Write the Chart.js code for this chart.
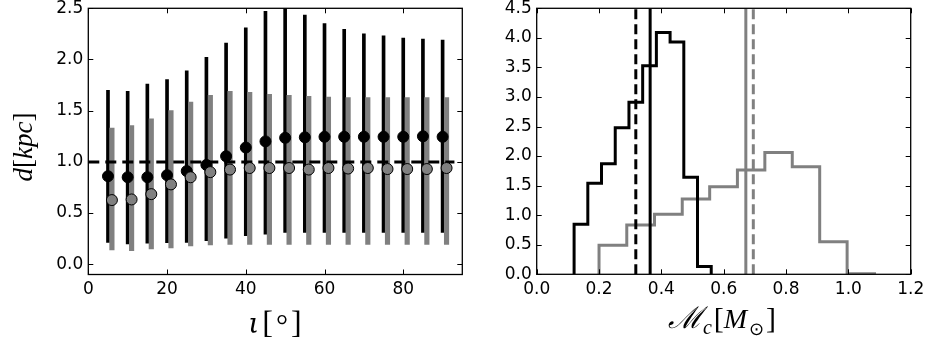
<!DOCTYPE html>
<html>
<head>
<meta charset="utf-8">
<script src="https://cdn.jsdelivr.net/npm/chart.js@4.4.0/dist/chart.umd.min.js"></script>
<style>
  body { margin: 0; background: #fff; width: 926px; height: 347px; overflow: hidden; position: relative; }
  canvas { position: absolute; top: 0; }
  #left { left: 0; }
  #right { left: 470px; }
</style>
</head>
<body>
<canvas id="left" width="470" height="347"></canvas>
<canvas id="right" width="456" height="347"></canvas>
<script>
// left panel: distance vs inclination
const incl     = [5, 10, 15, 20, 25, 30, 35, 40, 45, 50, 55, 60, 65, 70, 75, 80, 85, 90];
const dBlack   = [0.86, 0.85, 0.85, 0.87, 0.91, 0.97, 1.055, 1.14, 1.20, 1.235, 1.24, 1.245, 1.245, 1.245, 1.245, 1.245, 1.25, 1.245];
const dBlackLo = [0.214, 0.198, 0.205, 0.21, 0.214, 0.23, 0.256, 0.28, 0.295, 0.31, 0.31, 0.31, 0.31, 0.31, 0.31, 0.31, 0.31, 0.31];
const dBlackHi = [1.70, 1.69, 1.76, 1.805, 1.89, 2.02, 2.16, 2.31, 2.47, 2.56, 2.435, 2.35, 2.295, 2.25, 2.23, 2.21, 2.20, 2.19];

const inclGray = [6, 11, 16, 21, 26, 31, 36, 41, 46, 51, 56, 61, 66, 71, 76, 81, 86, 91];
const dGray    = [0.627, 0.633, 0.685, 0.78, 0.85, 0.90, 0.925, 0.94, 0.94, 0.94, 0.925, 0.94, 0.935, 0.94, 0.93, 0.93, 0.93, 0.94];
const dGrayLo  = [0.14, 0.133, 0.15, 0.16, 0.18, 0.19, 0.195, 0.195, 0.195, 0.195, 0.195, 0.195, 0.195, 0.195, 0.195, 0.195, 0.195, 0.195];
const dGrayHi  = [1.33, 1.355, 1.42, 1.50, 1.585, 1.65, 1.69, 1.68, 1.66, 1.65, 1.64, 1.633, 1.627, 1.627, 1.627, 1.627, 1.627, 1.627];

const dTrue = 1.0;
const dTrueSpan = [0, 93];

// right panel: chirp mass histograms
const mcBlackEdges   = [0.120, 0.164, 0.208, 0.252, 0.296, 0.340, 0.384, 0.428, 0.472, 0.516, 0.560];
const mcBlackHeights = [0.846, 1.54, 1.87, 2.48, 2.91, 3.53, 4.09, 3.93, 1.64, 0.13];
const mcGrayEdges    = [0.200, 0.289, 0.378, 0.467, 0.555, 0.644, 0.732, 0.820, 0.908, 0.996, 1.084];
const mcGrayHeights  = [0.49, 0.835, 1.015, 1.275, 1.48, 1.765, 2.06, 1.82, 0.55, 0.01];

const mcBlackTrue = 0.318, mcBlackMed = 0.364;
const mcGrayMed = 0.671, mcGrayTrue = 0.695;

// tick labels
const leftXTicks  = [0, 20, 40, 60, 80];
const leftYTicks  = [0, 0.5, 1.0, 1.5, 2.0, 2.5];
const rightXTicks = [0, 0.2, 0.4, 0.6, 0.8, 1.0, 1.2];
const rightYTicks = [0, 0.5, 1.0, 1.5, 2.0, 2.5, 3.0, 3.5, 4.0, 4.5];

const GRAY = '#808080';
const tickFont = { family: 'DejaVu Sans', size: 17 };

function axis(ticks, min, max, fmt, fit) {
  return {
    type: 'linear', min: min, max: max, offset: false,
    grid: { display: false, drawTicks: false, offset: false },
    border: { display: false },
    ticks: { font: tickFont, color: '#000', padding: 5, callback: fmt, autoSkip: false, maxRotation: 0 },
    afterBuildTicks: s => { s.ticks = ticks.map(v => ({ value: v })); },
    afterFit: fit
  };
}

function drawRich(ctx, parts, cx, cy, angle) {
  ctx.save();
  ctx.translate(cx, cy);
  ctx.rotate(angle);
  ctx.fillStyle = '#000';
  ctx.textBaseline = 'alphabetic';
  let total = 0;
  parts.forEach(p => { ctx.font = p.f; total += ctx.measureText(p.t).width + (p.sp || 0); });
  let x = -total / 2;
  parts.forEach(p => {
    ctx.font = p.f;
    ctx.fillText(p.t, x, p.dy || 0);
    x += ctx.measureText(p.t).width + (p.sp || 0);
  });
  ctx.restore();
}

// frame, inward ticks on all four sides, and axis titles
function frame(titles) {
  return {
    id: 'frame',
    afterDraw(chart) {
      const ctx = chart.ctx, a = chart.chartArea;
      const xs = chart.scales.x, ys = chart.scales.y;
      ctx.save();
      ctx.strokeStyle = '#000';
      ctx.lineWidth = 1;
      ctx.beginPath();
      xs.ticks.forEach(t => {
        const px = Math.round(xs.getPixelForValue(t.value)) + 0.5;
        ctx.moveTo(px, a.bottom); ctx.lineTo(px, a.bottom - 5);
        ctx.moveTo(px, a.top); ctx.lineTo(px, a.top + 5);
      });
      ys.ticks.forEach(t => {
        const py = Math.round(ys.getPixelForValue(t.value)) + 0.5;
        ctx.moveTo(a.left, py); ctx.lineTo(a.left + 5, py);
        ctx.moveTo(a.right, py); ctx.lineTo(a.right - 5, py);
      });
      ctx.stroke();
      ctx.lineWidth = 1.3;
      ctx.strokeRect(a.left, a.top, a.right - a.left, a.bottom - a.top);
      ctx.restore();
      titles.forEach(t => drawRich(ctx, t.parts, t.x, t.y, t.angle || 0));
    }
  };
}

const serifI = s => 'italic ' + s + 'px "Liberation Serif"';
const serif = s => s + 'px "Liberation Serif"';

// left chart
new Chart(document.getElementById('left').getContext('2d'), {
  type: 'scatter',
  data: {
    datasets: [
      {
        type: 'scatter', order: 1, clip: 0,
        data: inclGray.map((x, i) => ({ x: x, y: dGray[i] })),
        pointRadius: 5.5, pointBackgroundColor: GRAY, pointBorderColor: '#000', pointBorderWidth: 1
      },
      {
        type: 'scatter', order: 2, clip: 0,
        data: incl.map((x, i) => ({ x: x, y: dBlack[i] })),
        pointRadius: 5.5, pointBackgroundColor: '#000', pointBorderColor: '#000', pointBorderWidth: 1
      },
      {
        type: 'line', order: 3, clip: 0,
        data: dTrueSpan.map(x => ({ x: x, y: dTrue })),
        borderColor: '#000', borderWidth: 3, borderDash: [11, 6], pointRadius: 0, fill: false
      },
      {
        type: 'bar', order: 4, clip: 0, grouped: false,
        data: inclGray.map((x, i) => ({ x: x, y: [dGrayLo[i], dGrayHi[i]] })),
        backgroundColor: GRAY, borderWidth: 0, barThickness: 4.5
      },
      {
        type: 'bar', order: 5, clip: 0, grouped: false,
        data: incl.map((x, i) => ({ x: x, y: [dBlackLo[i], dBlackHi[i]] })),
        backgroundColor: '#000', borderWidth: 0, barThickness: 3
      }
    ]
  },
  options: {
    responsive: false,
    animation: false,
    layout: { padding: { left: 0, top: 8.3, right: 7.7, bottom: 0 } },
    plugins: { legend: { display: false }, tooltip: { enabled: false } },
    scales: {
      x: axis(leftXTicks, 0, 95, v => String(v), s => { s.height = 72.5; s.paddingLeft = 0; s.paddingRight = 0; }),
      y: axis(leftYTicks, -0.1, 2.5, v => v.toFixed(1), s => { s.width = 88.3; s.paddingTop = 0; s.paddingBottom = 0; })
    }
  },
  plugins: [frame([
    { x: 32, y: 147, angle: -Math.PI / 2, parts: [
      { t: 'd', f: serifI(27) }, { t: '[', f: serif(27) }, { t: 'kpc', f: serifI(27) }, { t: ']', f: serif(27) }
    ] },
    { x: 275, y: 333, parts: [
      { t: 'ι', f: 'italic 28px "DejaVu Serif"', sp: 3 }, { t: '[', f: serif(32), sp: 3 }, { t: '°', f: serif(30), dy: 2, sp: 3 }, { t: ']', f: serif(32) }
    ] }
  ])]
});

// right chart
function stepPoints(edges, heights) {
  const pts = [{ x: edges[0], y: 0 }];
  heights.forEach((h, i) => pts.push({ x: edges[i + 1], y: h }));
  pts.push({ x: edges[edges.length - 1], y: 0 });
  return pts;
}
function vline(x, color, dash, order) {
  return {
    type: 'line', order: order, clip: 0,
    data: [{ x: x, y: 0 }, { x: x, y: 4.5 }],
    borderColor: color, borderWidth: 3, borderDash: dash, pointRadius: 0, fill: false
  };
}

new Chart(document.getElementById('right').getContext('2d'), {
  type: 'scatter',
  data: {
    datasets: [
      vline(mcBlackTrue, '#000', [10, 5], 1),
      vline(mcBlackMed, '#000', [], 2),
      vline(mcGrayMed, GRAY, [], 3),
      vline(mcGrayTrue, GRAY, [10, 5], 4),
      {
        type: 'line', order: 5, clip: 0, stepped: 'after',
        data: stepPoints(mcBlackEdges, mcBlackHeights),
        borderColor: '#000', borderWidth: 3, pointRadius: 0, fill: false
      },
      {
        type: 'line', order: 6, clip: 0, stepped: 'after',
        data: stepPoints(mcGrayEdges, mcGrayHeights),
        borderColor: GRAY, borderWidth: 3, pointRadius: 0, fill: false
      }
    ]
  },
  options: {
    responsive: false,
    animation: false,
    layout: { padding: { left: 0, top: 8.3, right: 15.3, bottom: 0 } },
    plugins: { legend: { display: false }, tooltip: { enabled: false } },
    scales: {
      x: axis(rightXTicks, 0, 1.2, v => v.toFixed(1), s => { s.height = 72.7; s.paddingLeft = 0; s.paddingRight = 0; }),
      y: axis(rightYTicks, 0, 4.5, v => v.toFixed(1), s => { s.width = 66.7; s.paddingTop = 0; s.paddingBottom = 0; })
    }
  },
  plugins: [frame([
    { x: 252, y: 328, parts: [
      { t: 'ℳ', f: serifI(30) }, { t: 'c', f: serifI(20), dy: 6, sp: 2 }, { t: '[', f: serif(30) },
      { t: 'M', f: serifI(28), sp: 2 }, { t: '⊙', f: serif(18), dy: 7, sp: 2 }, { t: ']', f: serif(30) }
    ] }
  ])]
});
</script>
</body>
</html>
